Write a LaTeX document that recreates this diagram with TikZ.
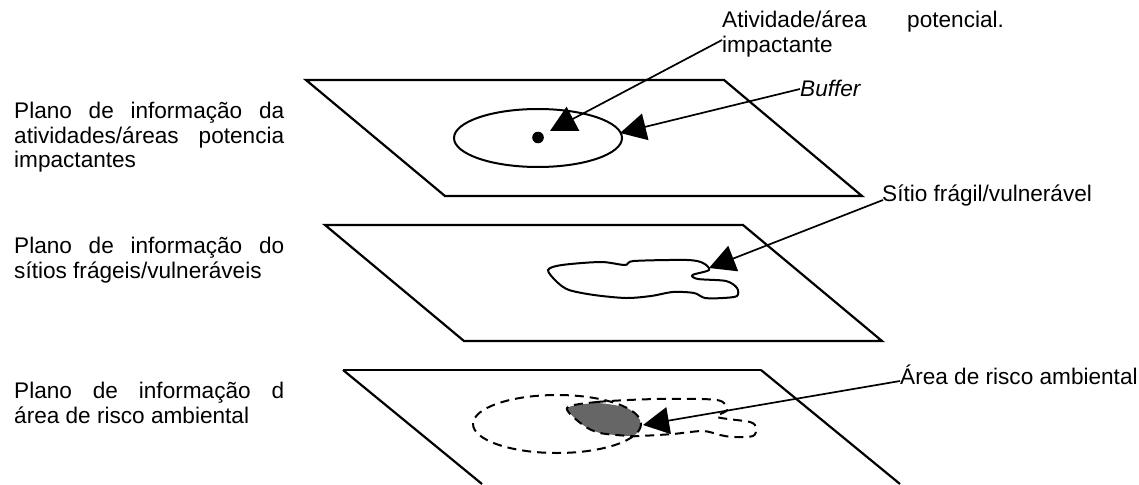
\documentclass[tikz,border=0pt]{standalone}
\usepackage{fontspec}
\setmainfont{Liberation Sans}
\usetikzlibrary{arrows.meta,calc}
\tikzset{
  planeedge/.style={line width=2.2pt,line join=miter},
  outline/.style={line width=2pt},
  dashline/.style={line width=2pt,dash pattern=on 9pt off 6pt},
  pointer/.style={line width=1.7pt,-{Triangle[length=26pt,width=27pt]}},
  lbl/.style={anchor=base west,inner sep=0pt,font=\fontsize{22.6}{25}\selectfont},
}
\definecolor{riskgray}{HTML}{666666}
\begin{document}
\begin{tikzpicture}[x=1pt,y=-1pt]
\useasboundingbox (0,0) rectangle (1139,484);
% planes
\draw[planeedge] (306,80) -- (724,80) -- (862,196) -- (445,196) -- cycle;
\draw[planeedge] (325,225) -- (743,225) -- (882,341) -- (464,341) -- cycle;
\draw[planeedge] (343,370) -- (761,370);
\draw[planeedge] (343,370) -- (482,484);
\draw[planeedge] (761,370) -- (900,484);
% plane 1 content
\draw[outline] (538,138) ellipse [x radius=84,y radius=29];
\fill (538,137.5) circle [radius=5.8];
% plane 2 content
\draw[outline] plot[smooth cycle,tension=0.5] coordinates {(548,270) (562,265) (601,262) (625,265) (634,261) (687,260) (703,263) (709,270) (692.5,275) (698,279) (726,281) (737,288) (737,296) (723,298) (705,298) (694,293) (673,292) (651,296) (626,298) (594,295) (569,290) (557,282)};
% plane 3 content
\fill[riskgray] plot[smooth cycle,tension=0.4] coordinates {(567,408) (597,403) (627,408) (640,420) (638,432) (630,436) (600,433) (583,425)};
\draw[dashline] (557,424) ellipse [x radius=84,y radius=29];
\draw[dashline] plot[smooth cycle,tension=0.5] coordinates {(567,408) (597,402) (657,399) (717,400) (727,410) (717,417) (750,422) (756,428) (753,436) (733,437) (720,435) (703,431) (673,434) (640,436) (630,436) (600,433) (583,425)};
% labels
\node[lbl] (a1) at (14,118) {\makebox[270pt][s]{Plano de informação da}};
\node[lbl] (a2) at (14,143) {\makebox[270pt][s]{atividades/áreas potencia}};
\node[lbl] (a3) at (14,167) {impactantes};
\node[lbl] (b1) at (14,253) {\makebox[270pt][s]{Plano de informação do}};
\node[lbl] (b2) at (14,278) {sítios frágeis/vulneráveis};
\node[lbl] (c1) at (14,398) {\makebox[270pt][s]{Plano de informação d}};
\node[lbl] (c2) at (14,423) {área de risco ambiental};
\node[lbl] (t1) at (722,28) {Atividade/área};
\node[lbl] (t1b) at (907,28) {potencial.};
\node[lbl] (t2) at (722,53) {impactante};
\node[lbl,font=\fontsize{22.6}{25}\selectfont\itshape] (t3) at (800,96) {Buffer};
\node[lbl] (t4) at (882,201) {Sítio frágil/vulnerável};
\node[lbl] (t5) at (900,384) {Área de risco ambiental};
% arrow targets
\coordinate (tipA) at (550,131);
\coordinate (tipB) at (620,133);
\coordinate (tipC) at (709,268);
\coordinate (tipD) at (643,425);
\draw[pointer] ($(t2.base west)+(0,-13)$) -- (tipA);
\draw[pointer] ($(t3.base west)+(0,-7)$) -- (tipB);
\draw[pointer] ($(t4.base west)+(1,-1)$) -- (tipC);
\draw[pointer] ($(t5.base west)+(0,-3)$) -- (tipD);
\end{tikzpicture}
\end{document}
